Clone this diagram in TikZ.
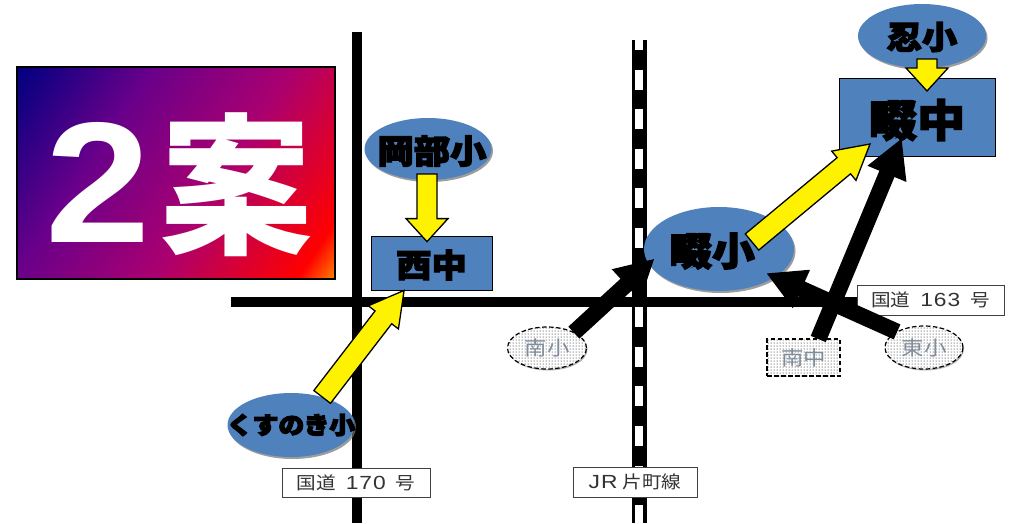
\documentclass[tikz,border=0pt]{standalone}
\usepackage{fontspec}
\usetikzlibrary{calc,shapes.geometric,patterns,shadows}
\setmainfont[BoldFeatures={FakeStretch=1.1}]{Noto Sans CJK JP}
\newfontfamily\titlefont{Noto Sans CJK JP}
\newfontfamily\cjkfont[FakeStretch=1.12]{Noto Sans CJK JP}
\newfontfamily\digitfont[FakeStretch=1.2,LetterSpace=5]{Liberation Sans}
\newfontfamily\twofont[FakeStretch=1.1]{Liberation Sans}
\newcommand{\fsize}[1]{\fontsize{#1}{#1}\selectfont}
\definecolor{schoolblue}{HTML}{4F81BD}
\definecolor{greytext}{HTML}{7F8C9A}
\definecolor{gradA}{RGB}{0,0,128}
\definecolor{gradB}{RGB}{106,0,138}
\definecolor{gradC}{RGB}{170,0,112}
\definecolor{gradD}{RGB}{255,0,0}
\definecolor{gradE}{RGB}{255,128,0}
\pgfdeclarehorizontalshading{titleshade}{100bp}{color(0bp)=(gradA); color(15.3bp)=(gradA); color(36.1bp)=(gradB); color(57bp)=(gradC); color(79.1bp)=(gradD); color(84.7bp)=(gradE); color(100bp)=(gradE)}
\tikzset{
  road/.style={line width=10pt},
  blockarrow/.style n args={3}{line width=1.3pt, miter limit=8, to path={
    ($(\tikztostart)!#1!90:(\tikztotarget)$)
    -- ($(\tikztotarget)!#3!(\tikztostart)!#1!-90:(\tikztostart)$)
    -- ($(\tikztotarget)!#3!(\tikztostart)!#2!-90:(\tikztostart)$)
    -- (\tikztotarget)
    -- ($(\tikztotarget)!#3!(\tikztostart)!#2!90:(\tikztostart)$)
    -- ($(\tikztotarget)!#3!(\tikztostart)!#1!90:(\tikztostart)$)
    -- ($(\tikztostart)!#1!-90:(\tikztotarget)$) -- cycle}},
  yellowarrow/.style={draw=black, fill=yellow, blockarrow={10.5pt}{19pt}{34pt}},
  blackarrow/.style={draw=black, fill=black, blockarrow={7.5pt}{20pt}{36pt}},
  school/.style={ellipse, fill=schoolblue, inner sep=0pt, drop shadow={shadow xshift=1.5pt, shadow yshift=-2pt, fill=black!55, opacity=0.7}},
  juniorbox/.style={rectangle, draw=black, line width=0.8pt, fill=schoolblue, inner sep=0pt},
  heavytext/.style={text=black, font=\bfseries\fsize{#1}, execute at begin node={\special{pdf:code q 2 Tr 1.3 w}}, execute at end node={\special{pdf:code Q}}},
  closedbox/.style={draw=black, line width=1.2pt, dash pattern=on 4.5pt off 2.5pt, fill=white, inner sep=0pt, text=greytext, font=\cjkfont\fsize{20}},
  dotfill/.style={pattern=dots, pattern color=black},
  roadlabel/.style={rectangle, draw=black!75, line width=0.8pt, fill=white, inner sep=0pt, text=black!80, font=\cjkfont\fsize{17.5}},
}
\begin{document}
\begin{tikzpicture}[x=1pt,y=-1pt]
\useasboundingbox (0,0) rectangle (1014,523);
% Roads
\draw [road] (357,32) -- (357,523);
\draw [road] (231,302) -- (870,302);
\draw [line width=15pt] (639.5,40) -- (639.5,523);
\draw [line width=7.5pt, white, dash pattern=on 20pt off 19.6pt, dash phase=10pt] (639,40) -- (639,523);
% Title
\node [rectangle, draw=black, line width=1.5pt, shading=titleshade, shading angle=-33.7, minimum width=318pt, minimum height=212pt, inner sep=0pt] (title) at (176,173) {};
\node [text=white, inner sep=0pt] (titletext) at (179,185) {{\twofont\bfseries\fsize{172}2}\hspace{10pt}{\titlefont\bfseries\fsize{152}案}};
% Nodes
\node [school, minimum width=127pt, minimum height=62pt, label={[heavytext=33, xshift=4pt, yshift=-2pt]center:岡部小}] (okabe) at (428,149) {};
\node [juniorbox, minimum width=121pt, minimum height=54pt, label={[heavytext=32, yshift=-2pt]center:西中}] (nishi) at (431.5,263) {};
\node [school, minimum width=128pt, minimum height=64pt, label={[heavytext=32, yshift=-1pt]center:忍小}] (shinobu) at (922,36) {};
\node [juniorbox, minimum width=156pt, minimum height=78pt, label={[heavytext=44, yshift=-3pt]center:畷中}] (nawatechu) at (917,117) {};
\node [school, minimum width=150pt, minimum height=84pt, label={[heavytext=39, xshift=-7pt, yshift=-2pt]center:畷小}] (nawatesho) at (719,249) {};
\node [school, minimum width=127pt, minimum height=64pt, label={[heavytext=23.5]center:くすのき小}] (kusunoki) at (291,425) {};
\node [ellipse, closedbox, minimum width=79pt, minimum height=42pt, preaction={fill=white, drop shadow={shadow xshift=1pt, shadow yshift=-1.5pt, fill=black!60}}, dotfill] (minamisho) at (547,348) {南小};
\node [closedbox, minimum width=73pt, minimum height=37pt, dotfill] (minamichu) at (803.5,357.5) {南中};
\node [ellipse, closedbox, minimum width=78pt, minimum height=43pt, preaction={fill=white, drop shadow={shadow xshift=1pt, shadow yshift=-1.5pt, fill=black!60}}, dotfill] (higashi) at (924,347.5) {東小};
% Labels
\node [roadlabel, minimum width=148pt, minimum height=29pt] (route170) at (356,482.5) {国道\hspace{10pt}{\digitfont\fsize{19}170}\hspace{10pt}号};
\node [roadlabel, minimum width=124pt, minimum height=30pt] (jrline) at (635,482) {{\digitfont\fsize{19}JR}\hspace{5pt}片町線};
\node [roadlabel, minimum width=147pt, minimum height=30pt] (route163) at (930.5,300) {国道\hspace{10pt}{\digitfont\fsize{19}163}\hspace{10pt}号};
% Arrows
\coordinate (nawatesho tail) at (752,242);
\coordinate (nawatechu tip1) at (870,144);
\coordinate (nawatechu tip2) at (901,140);
\coordinate (nawatesho tip1) at (653,260);
\coordinate (nawatesho tip2) at (768,274);
\draw [blackarrow] (minamisho.30) to (nawatesho tip1);
\draw [blackarrow] (minamichu.north) ++(15pt,0) coordinate (minamichu tail) (minamichu tail) to (nawatechu tip2);
\draw [blackarrow] (higashi.150) to (nawatesho tip2);
\draw [yellowarrow] (nawatesho tail) to (nawatechu tip1);
\draw [yellowarrow] (kusunoki.42) to (nishi.225);
\draw [yellowarrow, blockarrow={10pt}{21pt}{23pt}] (427,174) coordinate (okabe tail) to ([yshift=-6pt]nishi.north -| okabe tail);
\draw [yellowarrow, blockarrow={10pt}{21pt}{23pt}] (927,59) coordinate (shinobu tail) to (927,91);
\end{tikzpicture}
\end{document}
